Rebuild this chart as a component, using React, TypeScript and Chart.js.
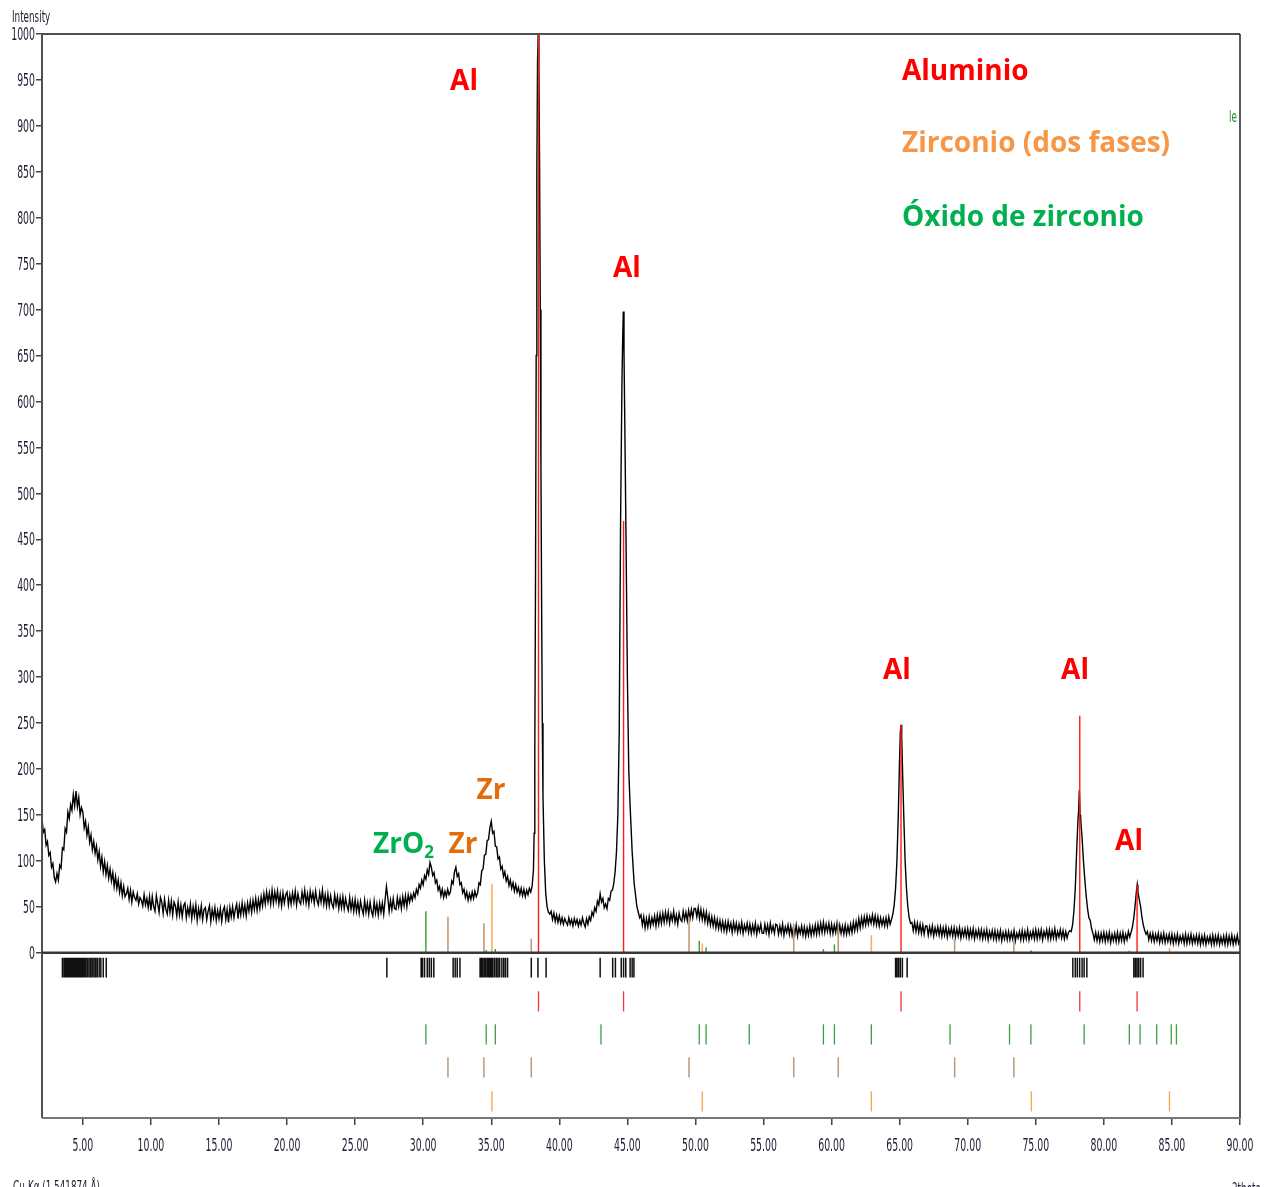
import React, { useEffect, useRef } from "react";
import { Chart, registerables } from "chart.js";

Chart.register(...registerables);

const W = 1271;
const H = 1187;

// ---------- measured diffractogram (2theta from 2.0 to 90.0, step 0.1; one row = 1 degree) ----------
const bgStart = 2.0;
const bgStep = 0.1;
const bgCounts = [
  146, 131, 134, 117, 121, 106, 109, 93, 97, 82, // 2
  77, 86, 79, 95, 92, 114, 112, 135, 131, 153, // 3
  146, 161, 155, 172, 160, 176, 159, 169, 150, 158, // 4
  153, 136, 143, 128, 137, 120, 128, 112, 121, 108, // 5
  116, 101, 110, 94, 104, 88, 99, 85, 95, 81, // 6
  91, 78, 87, 72, 83, 70, 79, 66, 76, 62, // 7
  72, 61, 64, 70, 58, 68, 55, 66, 60, 57, // 8
  64, 53, 60, 57, 51, 63, 52, 59, 49, 61, // 9
  46, 61, 50, 45, 62, 53, 44, 60, 55, 43, // 10
  58, 47, 42, 57, 44, 56, 41, 55, 51, 40, // 11
  55, 41, 52, 39, 51, 54, 38, 49, 41, 53, // 12
  37, 50, 40, 52, 35, 48, 39, 51, 36, 47, // 13
  49, 36, 45, 51, 34, 47, 38, 49, 35, 46, // 14
  37, 48, 34, 46, 50, 36, 47, 33, 49, 39, // 15
  50, 38, 47, 53, 37, 51, 41, 54, 42, 52, // 16
  40, 54, 45, 56, 44, 57, 47, 59, 46, 58, // 17
  48, 61, 51, 64, 53, 66, 55, 65, 53, 68, // 18
  54, 66, 56, 67, 53, 64, 51, 65, 54, 63, // 19
  66, 52, 63, 53, 65, 55, 67, 52, 64, 56, // 20
  53, 66, 56, 68, 54, 64, 52, 67, 57, 65, // 21
  54, 67, 57, 52, 65, 55, 68, 53, 63, 51, // 22
  64, 51, 62, 53, 49, 63, 52, 61, 48, 60, // 23
  49, 61, 48, 59, 51, 46, 60, 47, 57, 45, // 24
  58, 45, 55, 43, 56, 48, 42, 57, 44, 54, // 25
  42, 55, 45, 40, 56, 43, 53, 41, 54, 44, // 26
  54, 42, 57, 72, 60, 45, 57, 47, 59, 48, // 27
  47, 60, 50, 59, 48, 61, 51, 62, 50, 63, // 28
  55, 63, 57, 65, 60, 69, 64, 74, 70, 79, // 29
  74, 84, 80, 90, 85, 98, 93, 84, 87, 76, // 30
  79, 68, 72, 62, 69, 60, 67, 61, 69, 63, // 31
  66, 78, 75, 88, 93, 83, 86, 74, 76, 65, // 32
  69, 60, 66, 57, 64, 58, 66, 59, 67, 61, // 33
  65, 76, 74, 89, 91, 106, 107, 122, 123, 136, // 34
  143, 130, 132, 116, 115, 102, 104, 91, 94, 83, // 35
  88, 78, 83, 73, 79, 70, 76, 67, 74, 66, // 36
  71, 63, 70, 62, 69, 61, 68, 63, 70, 66, // 37
  72, 90, 220, 650, 970, 960, 700, 380, 170, 100, // 38
  65, 50, 44, 42, 45, 36, 43, 34, 41, 33, // 39
  40, 32, 38, 31, 37, 33, 30, 38, 31, 36, // 40
  29, 37, 31, 36, 29, 35, 30, 38, 32, 28, // 41
  37, 31, 39, 35, 44, 40, 49, 45, 56, 52, // 42
  64, 55, 59, 49, 53, 48, 59, 57, 67, 68, // 43
  75, 88, 110, 150, 240, 470, 640, 698, 600, 450, // 44
  300, 200, 160, 125, 100, 75, 62, 50, 44, 38, // 45
  41, 30, 39, 27, 37, 28, 39, 29, 38, 31, // 46
  40, 29, 41, 31, 42, 32, 43, 33, 44, 34, // 47
  44, 32, 42, 35, 45, 33, 41, 31, 43, 36, // 48
  34, 45, 36, 44, 35, 46, 37, 47, 38, 48, // 49
  48, 39, 49, 37, 47, 36, 45, 34, 44, 32, // 50
  41, 30, 39, 29, 38, 27, 36, 26, 35, 25, // 51
  34, 24, 33, 23, 34, 25, 32, 22, 33, 24, // 52
  32, 22, 31, 23, 33, 21, 30, 24, 32, 22, // 53
  31, 21, 30, 22, 32, 20, 29, 23, 31, 21, // 54
  21, 31, 22, 30, 20, 32, 23, 29, 21, 31, // 55
  30, 20, 29, 21, 31, 19, 28, 22, 30, 20, // 56
  29, 19, 28, 20, 30, 18, 27, 21, 29, 19, // 57
  28, 18, 27, 19, 29, 19, 28, 20, 30, 20, // 58
  31, 21, 32, 22, 33, 22, 31, 23, 32, 21, // 59
  31, 21, 30, 22, 32, 20, 30, 21, 29, 20, // 60
  30, 20, 29, 21, 31, 22, 33, 24, 34, 25, // 61
  37, 27, 38, 29, 39, 30, 40, 31, 39, 32, // 62
  41, 31, 40, 30, 39, 29, 38, 30, 37, 29, // 63
  38, 29, 39, 31, 36, 42, 52, 70, 100, 150, // 64
  215, 248, 205, 150, 100, 70, 50, 38, 32, 33, // 65
  24, 33, 23, 32, 22, 31, 21, 30, 20, 29, // 66
  29, 19, 28, 20, 29, 18, 27, 20, 28, 19, // 67
  28, 18, 27, 19, 28, 17, 26, 19, 27, 18, // 68
  27, 17, 26, 18, 27, 16, 25, 18, 26, 17, // 69
  26, 16, 25, 17, 26, 15, 24, 17, 25, 16, // 70
  25, 15, 24, 16, 25, 14, 23, 16, 24, 15, // 71
  24, 14, 23, 15, 24, 13, 22, 15, 23, 14, // 72
  23, 14, 22, 15, 24, 13, 21, 16, 23, 14, // 73
  24, 14, 23, 15, 25, 14, 22, 16, 24, 15, // 74
  25, 15, 24, 16, 25, 14, 23, 17, 25, 15, // 75
  25, 15, 24, 16, 26, 15, 23, 17, 25, 16, // 76
  24, 15, 23, 16, 22, 24, 23, 30, 45, 70, // 77
  110, 145, 177, 145, 125, 100, 80, 62, 48, 38, // 78
  35, 26, 21, 14, 22, 13, 21, 12, 21, 13, // 79
  22, 12, 21, 13, 22, 11, 20, 13, 21, 12, // 80
  22, 12, 21, 13, 22, 12, 20, 14, 23, 17, // 81
  22, 28, 38, 52, 68, 66, 58, 50, 38, 30, // 82
  24, 20, 23, 14, 21, 13, 21, 12, 20, 13, // 83
  21, 11, 20, 12, 21, 11, 19, 12, 20, 11, // 84
  20, 10, 19, 11, 20, 10, 18, 12, 19, 10, // 85
  20, 10, 19, 11, 20, 10, 18, 11, 19, 10, // 86
  19, 9, 18, 10, 19, 9, 17, 11, 18, 9, // 87
  19, 9, 18, 10, 19, 9, 17, 10, 18, 9, // 88
  19, 9, 18, 10, 19, 9, 17, 10, 19, 10, // 89
  14, // 90
];

// finer sampling of the aluminium reflections
const al1Angles = [37.9, 38.0, 38.1, 38.15, 38.2, 38.25, 38.3, 38.35, 38.4, 38.45, 38.5, 38.55, 38.6, 38.65, 38.7, 38.75, 38.8, 38.9, 39.0, 39.1, 39.2, 39.3];
const al1Counts = [66, 72, 90, 130, 220, 400, 650, 850, 970, 1000, 960, 860, 700, 530, 380, 250, 170, 100, 65, 50, 44, 42];
const al2Angles = [43.9, 44.0, 44.1, 44.2, 44.3, 44.4, 44.5, 44.6, 44.65, 44.7, 44.75, 44.8, 44.9, 45.0, 45.1, 45.2, 45.35, 45.5, 45.7, 45.9];
const al2Counts = [68, 75, 88, 110, 150, 240, 470, 620, 665, 698, 655, 590, 450, 300, 200, 160, 110, 75, 50, 38];
const al3Angles = [64.4, 64.5, 64.6, 64.7, 64.8, 64.9, 65.0, 65.05, 65.1, 65.15, 65.2, 65.3, 65.4, 65.5, 65.6, 65.7, 65.8];
const al3Counts = [36, 42, 52, 70, 100, 150, 215, 240, 248, 235, 205, 150, 100, 70, 50, 38, 32];
const al4Angles = [77.6, 77.7, 77.8, 77.9, 78.0, 78.1, 78.15, 78.2, 78.25, 78.3, 78.4, 78.5, 78.6, 78.7, 78.8, 78.9, 79.0, 79.1, 79.2];
const al4Counts = [23, 30, 45, 70, 110, 145, 155, 177, 150, 145, 125, 100, 80, 62, 48, 38, 35, 26, 21];
const al5Angles = [82.0, 82.1, 82.2, 82.3, 82.4, 82.45, 82.5, 82.6, 82.7, 82.8, 82.9, 83.0, 83.1];
const al5Counts = [22, 28, 38, 52, 68, 74, 66, 58, 50, 38, 30, 24, 20];

// ---------- reference patterns (stick positions and relative heights) ----------
const alAngles = [38.47, 44.72, 65.1, 78.23, 82.44];
const alHeights = [1000, 470, 248, 258, 74];
const zro2Angles = [30.2, 34.63, 35.3, 43.06, 50.28, 50.78, 53.95, 59.4, 60.21, 62.92, 68.7, 73.07, 74.64, 78.55, 81.87, 82.66, 83.88, 84.95, 85.33];
const zro2Heights = [45, 3, 4, 0, 13, 6, 0, 4, 9, 0, 0, 0, 2, 0, 2, 0, 0, 0, 0];
const zrAAngles = [31.82, 34.46, 37.94, 49.53, 57.22, 60.49, 69.04, 73.39];
const zrAHeights = [39, 32, 15, 39, 31, 32, 15, 13];
const zrBAngles = [35.05, 50.5, 62.92, 74.67, 84.82];
const zrBHeights = [75, 10, 19, 3, 5];
const peakListAngles = [
  3.5, 3.62, 3.72, 3.82, 3.92, 4.02, 4.12, 4.22, 4.32, 4.42, 4.52, 4.62, 4.72, 4.82, 4.92, 5.02, 5.12, 5.22, 5.34, 5.46, 5.58, 5.7, 5.82, 5.94, 6.06, 6.2, 6.32, 6.5, 6.72,
  27.33,
  29.85, 29.95, 30.1, 30.3, 30.45, 30.6, 30.78,
  32.2, 32.35, 32.5, 32.7,
  34.18, 34.28, 34.38, 34.5, 34.6, 34.72, 34.82, 34.92, 35.02, 35.12, 35.25, 35.38, 35.5, 35.62, 35.78, 35.92, 36.05, 36.2,
  37.94, 38.43, 39.03,
  43.0, 43.92, 44.12, 44.55, 44.72, 44.88, 45.2, 45.35, 45.48,
  64.7, 64.8, 64.92, 65.05, 65.2, 65.55,
  77.72, 77.9, 78.05, 78.22, 78.4, 78.55, 78.75,
  82.2, 82.32, 82.44, 82.56, 82.7, 82.88,
];

// ---------- axes ----------
const xTickValues = [5, 10, 15, 20, 25, 30, 35, 40, 45, 50, 55, 60, 65, 70, 75, 80, 85, 90];
const yTickValues = [0, 50, 100, 150, 200, 250, 300, 350, 400, 450, 500, 550, 600, 650, 700, 750, 800, 850, 900, 950, 1000];

// ---------- layout / style (not data) ----------
const X_MIN = 2;
const X_MAX = 90;
const Y_MIN = -180;
const Y_MAX = 1000;
const ROW_PEAKS: [number, number] = [-5.5, -27];
const ROW_AL: [number, number] = [-42, -64];
const ROW_ZRO2: [number, number] = [-78, -100];
const ROW_ZRA: [number, number] = [-114, -136];
const ROW_ZRB: [number, number] = [-151, -173];

const AXIS_FONT = '"DejaVu Sans", sans-serif';
const LABEL_FONT = '"Open Sans", "Noto Sans", sans-serif';
const SX = 0.55;

type Note = { text: string; x: number; y: number; color: string; size: number; align: CanvasTextAlign; sub?: string };
const notes: Note[] = [
  { text: "Al", x: 33.0, y: 950, color: "#ff0000", size: 28, align: "center" },
  { text: "Al", x: 44.97, y: 746, color: "#ff0000", size: 28, align: "center" },
  { text: "Al", x: 64.8, y: 309, color: "#ff0000", size: 28, align: "center" },
  { text: "Al", x: 77.88, y: 309, color: "#ff0000", size: 28, align: "center" },
  { text: "Al", x: 81.85, y: 123, color: "#ff0000", size: 28, align: "center" },
  { text: "Zr", x: 34.98, y: 178, color: "#e46c0a", size: 28, align: "center" },
  { text: "Zr", x: 32.93, y: 119, color: "#e46c0a", size: 28, align: "center" },
  { text: "ZrO", x: 26.31, y: 119, color: "#00b050", size: 28, align: "left", sub: "2" },
  { text: "Aluminio", x: 65.17, y: 961, color: "#ff0000", size: 28, align: "left" },
  { text: "Zirconio (dos fases)", x: 65.17, y: 882.6, color: "#f79646", size: 28, align: "left" },
  { text: "Óxido de zirconio", x: 65.17, y: 802, color: "#00b050", size: 28, align: "left" },
];

function buildProfile() {
  const ranges = [
    [al1Angles, al1Counts],
    [al2Angles, al2Counts],
    [al3Angles, al3Counts],
    [al4Angles, al4Counts],
    [al5Angles, al5Counts],
  ];
  const pts: { x: number; y: number }[] = [];
  bgCounts.forEach((c, i) => {
    const a = Math.round((bgStart + i * bgStep) * 100) / 100;
    const inside = ranges.some(([an]) => a >= an[0] - 1e-6 && a <= an[an.length - 1] + 1e-6);
    if (!inside) pts.push({ x: a, y: c });
  });
  ranges.forEach(([an, cn]) => an.forEach((a, i) => pts.push({ x: a, y: cn[i] })));
  pts.sort((p, q) => p.x - q.x);
  return pts;
}

function sticksUp(angles: number[], heights: number[]) {
  const d: { x: number; y: number | null }[] = [];
  angles.forEach((a, i) => {
    if (heights[i] > 0) {
      d.push({ x: a, y: 0 }, { x: a, y: heights[i] }, { x: a, y: null });
    }
  });
  return d;
}

function sticksRow(angles: number[], row: [number, number]) {
  const d: { x: number; y: number | null }[] = [];
  angles.forEach((a) => d.push({ x: a, y: row[0] }, { x: a, y: row[1] }, { x: a, y: null }));
  return d;
}

function condensed(ctx: CanvasRenderingContext2D, text: string, x: number, y: number, align: CanvasTextAlign, size: number, color: string) {
  ctx.save();
  ctx.translate(x, y);
  ctx.scale(SX, 1);
  ctx.font = `${size}px ${AXIS_FONT}`;
  ctx.fillStyle = color;
  ctx.textAlign = align;
  ctx.textBaseline = "alphabetic";
  ctx.fillText(text, 0, 0);
  ctx.restore();
}

const overlay = {
  id: "overlay",
  afterDatasetsDraw(chart: any) {
    const { ctx, chartArea: a, scales } = chart;
    const y = scales.y;
    ctx.save();
    ctx.strokeStyle = "#505050";
    ctx.lineWidth = 2;
    ctx.beginPath();
    ctx.moveTo(a.left, a.bottom);
    ctx.lineTo(a.left, a.top);
    ctx.lineTo(a.right, a.top);
    ctx.stroke();
    ctx.strokeStyle = "#222";
    ctx.lineWidth = 1.5;
    ctx.beginPath();
    ctx.moveTo(a.right, a.top);
    ctx.lineTo(a.right, a.bottom);
    ctx.stroke();
    ctx.strokeStyle = "#777";
    ctx.lineWidth = 2;
    ctx.beginPath();
    ctx.moveTo(a.left, a.bottom);
    ctx.lineTo(a.right, a.bottom);
    ctx.stroke();
    const y0 = y.getPixelForValue(0);
    ctx.strokeStyle = "#383838";
    ctx.lineWidth = 2.5;
    ctx.beginPath();
    ctx.moveTo(a.left, y0);
    ctx.lineTo(a.right, y0);
    ctx.stroke();
    ctx.restore();
  },
  afterDraw(chart: any) {
    const { ctx, chartArea: a, scales } = chart;
    const x = scales.x;
    const y = scales.y;
    ctx.save();
    y.ticks.forEach((t: any) => {
      const py = y.getPixelForValue(t.value);
      condensed(ctx, String(t.value), a.left - 7, py + 0.3645 * 17, "right", 17, "#1c1c30");
    });
    x.ticks.forEach((t: any) => {
      const px = x.getPixelForValue(t.value);
      condensed(ctx, t.value.toFixed(2), px, a.bottom + 33, "center", 17, "#1c1c30");
    });
    condensed(ctx, "Intensity", 12, 22, "left", 16, "#1c1c30");
    condensed(ctx, "Cu-Kα (1.541874 Å)", 13, 1192, "left", 16, "#1c1c30");
    condensed(ctx, "2theta", 1232, 1194, "left", 16, "#1c1c30");
    condensed(ctx, "le", 1229, 122, "left", 16, "#2e8b2e");
    notes.forEach((n) => {
      const px = x.getPixelForValue(n.x);
      const py = y.getPixelForValue(n.y) + 0.357 * n.size;
      ctx.font = `bold ${n.size}px ${LABEL_FONT}`;
      ctx.fillStyle = n.color;
      ctx.textAlign = n.align;
      ctx.textBaseline = "alphabetic";
      ctx.fillText(n.text, px, py);
      if (n.sub) {
        const w = ctx.measureText(n.text).width;
        ctx.font = `bold ${Math.round(n.size * 0.62)}px ${LABEL_FONT}`;
        ctx.textAlign = "left";
        ctx.fillText(n.sub, px + w, py + n.size * 0.18);
      }
    });
    ctx.restore();
  },
};

export default function App() {
  const ref = useRef<HTMLCanvasElement>(null);
  useEffect(() => {
    document.body.style.margin = "0";
    const line = (data: any, color: string, width: number, order: number) => ({
      data,
      borderColor: color,
      borderWidth: width,
      pointRadius: 0,
      spanGaps: false,
      tension: 0,
      order,
    });
    const chart = new Chart(ref.current as HTMLCanvasElement, {
      type: "line",
      data: {
        datasets: [
          line(sticksUp(alAngles, alHeights), "#ff1a1a", 1.4, 0),
          line(sticksUp(zro2Angles, zro2Heights), "#2ca02c", 1.4, 1),
          line(sticksUp(zrAAngles, zrAHeights), "#c29a72", 1.6, 1),
          line(sticksUp(zrBAngles, zrBHeights), "#ffad5c", 1.6, 1),
          line(buildProfile(), "#000000", 1.4, 5),
          line(sticksRow(peakListAngles, ROW_PEAKS), "#111111", 1.5, 2),
          line(sticksRow(alAngles, ROW_AL), "#f03a3a", 1.3, 2),
          line(sticksRow(zro2Angles, ROW_ZRO2), "#3f9f3f", 1.3, 2),
          line(sticksRow(zrAAngles, ROW_ZRA), "#b79a7a", 1.5, 2),
          line(sticksRow(zrBAngles, ROW_ZRB), "#f7a54a", 1.3, 2),
        ] as any,
      },
      options: {
        responsive: false,
        animation: false,
        devicePixelRatio: 1,
        parsing: { xAxisKey: "x", yAxisKey: "y" } as any,
        layout: { padding: { top: 34, right: 31, left: 0, bottom: 0 } },
        plugins: { legend: { display: false }, tooltip: { enabled: false } },
        events: [],
        scales: {
          x: {
            type: "linear",
            min: X_MIN,
            max: X_MAX,
            afterBuildTicks: (s: any) => {
              s.ticks = xTickValues.map((v) => ({ value: v }));
            },
            afterFit: (s: any) => {
              s.height = H - 1118;
            },
            ticks: { display: false },
            border: { display: false },
            grid: { display: true, drawOnChartArea: false, drawTicks: true, tickLength: 7, color: "#444", lineWidth: 1.5 },
          },
          y: {
            type: "linear",
            min: Y_MIN,
            max: Y_MAX,
            afterBuildTicks: (s: any) => {
              s.ticks = yTickValues.map((v) => ({ value: v }));
            },
            afterFit: (s: any) => {
              s.width = 42;
            },
            ticks: { display: false },
            border: { display: false },
            grid: { display: true, drawOnChartArea: false, drawTicks: true, tickLength: 6, color: "#444", lineWidth: 1.5 },
          },
        },
      },
      plugins: [overlay],
    } as any);
    return () => chart.destroy();
  }, []);
  return (
    <div style={{ width: W, height: H, position: "relative", background: "#ffffff" }}>
      <canvas ref={ref} width={W} height={H} style={{ width: W, height: H, display: "block" }} />
    </div>
  );
}
